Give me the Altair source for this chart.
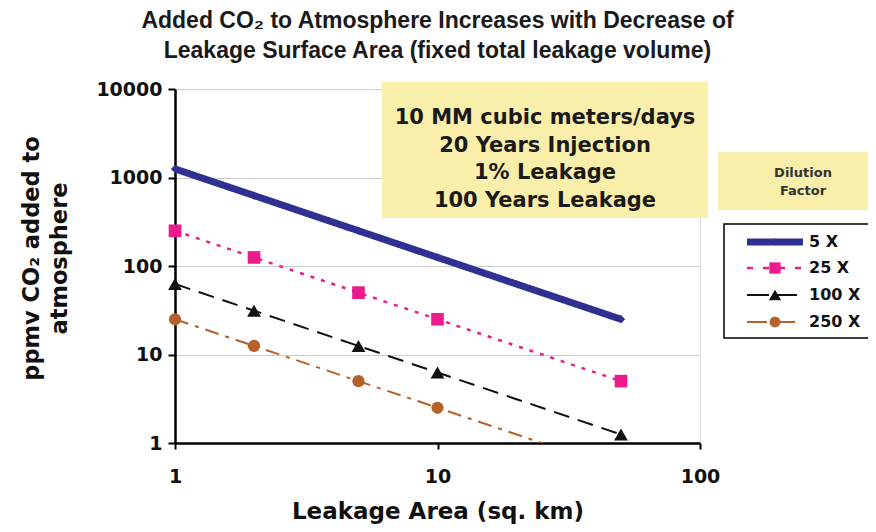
import altair as alt
import pandas as pd

# ---------------- data ----------------
areas = [1, 2, 5, 10, 50]
series_names = ["5 X", "25 X", "100 X", "250 X"]
ppmv_5x = [1250, 625, 250, 125, 25]
ppmv_25x = [250, 125, 50, 25, 5]
ppmv_100x = [62.5, 31.25, 12.5, 6.25, 1.25]
ppmv_250x = [25, 12.5, 5, 2.5, 0.5]
x_ticks = [1, 10, 100]
y_ticks = [1, 10, 100, 1000, 10000]

title_lines = ["Added CO\u2082 to Atmosphere Increases with Decrease of",
               "Leakage Surface Area (fixed total leakage volume)"]
note_lines = ["10 MM cubic meters/days", "20 Years Injection",
              "1% Leakage", "100 Years Leakage"]
legend_title = ["Dilution", "Factor"]
x_title = "Leakage Area (sq. km)"
y_title = ["ppmv CO\u2082 added to", "atmosphere"]

values = [ppmv_5x, ppmv_25x, ppmv_100x, ppmv_250x]

# ---------------- styles ----------------
W, H = 525, 354
FONT = "DejaVu Sans"
YELLOW = "#F9EEAA"
styles = {
    "5 X":   dict(color="#2E3191", width=7, dash=[1, 0], shape="diamond", size=70, ldash=[1, 0]),
    "25 X":  dict(color="#EC1C8C", width=2.5, dash=[4, 7], shape="square", size=160, ldash=[6, 10]),
    "100 X": dict(color="#111111", width=2, dash=[16, 9], shape="triangle-up", size=190, ldash=[22, 6]),
    "250 X": dict(color="#B5612B", width=2, dash=[14, 7, 4, 7], shape="circle", size=150, ldash=[20, 8]),
}

x_enc = alt.X("area:Q",
              scale=alt.Scale(type="log", domain=[1, 100]),
              axis=alt.Axis(values=x_ticks, format="d", title=x_title, grid=False,
                            labelFont=FONT, labelFontSize=19, labelFontWeight="bold",
                            labelColor="#111", labelPadding=18, tickSize=6,
                            tickColor="black", tickWidth=2, domainColor="black",
                            domainWidth=2.5, titleFont=FONT, titleFontSize=23,
                            titleFontWeight="bold", titleColor="#111",
                            titlePadding=14, labelFlush=False))
y_enc = alt.Y("ppmv:Q",
              scale=alt.Scale(type="log", domain=[1, 10000]),
              axis=alt.Axis(values=y_ticks, format="d", title=y_title, grid=True,
                            gridColor="#cccccc", gridWidth=1,
                            labelFont=FONT, labelFontSize=19, labelFontWeight="bold",
                            labelColor="#111", labelPadding=6, tickSize=7,
                            tickColor="black", tickWidth=2, domainColor="black",
                            domainWidth=2.5, titleFont=FONT, titleFontSize=22.5,
                            titleFontWeight="bold", titleColor="#111",
                            titlePadding=24, titleLineHeight=28, titleY=169,
                            labelFlush=False))

layers = []
for name, vals in zip(series_names, values):
    st = styles[name]
    df = pd.DataFrame({"area": areas, "ppmv": vals, "series": name})
    base = alt.Chart(df)
    line = base.mark_line(color=st["color"], strokeWidth=st["width"],
                          strokeDash=st["dash"], strokeCap="butt", clip=True).encode(x=x_enc, y=y_enc)
    pts = base.transform_filter(alt.datum.ppmv >= 1).mark_point(
        filled=True, opacity=1, shape=st["shape"], size=st["size"], color=st["color"]
    ).encode(x=x_enc, y=y_enc)
    layers += [line, pts]

# ---------------- annotation boxes (decoration) ----------------
one = pd.DataFrame({"k": [0]})
note_box = alt.Chart(one).mark_rect(color=YELLOW).encode(
    x=alt.value(207), x2=alt.value(533), y=alt.value(-7), y2=alt.value(129))
note_text = alt.Chart(one).mark_text(
    text=note_lines, font=FONT, fontSize=21, fontWeight="bold", color="#1a1a1a",
    align="center", baseline="alphabetic", lineHeight=27.5
).encode(x=alt.value(370), y=alt.value(35))

lt_box = alt.Chart(one).mark_rect(color=YELLOW).encode(
    x=alt.value(543), x2=alt.value(720), y=alt.value(63), y2=alt.value(121))
lt_text = alt.Chart(one).mark_text(
    text=legend_title, font=FONT, fontSize=13, fontWeight="bold", color="#333333",
    align="center", baseline="alphabetic", lineHeight=18
).encode(x=alt.value(628), y=alt.value(88))

leg_box = alt.Chart(one).mark_rect(fill="white", stroke="black", strokeWidth=1.5).encode(
    x=alt.value(549), x2=alt.value(720), y=alt.value(135), y2=alt.value(249))

legend_layers = [note_box, note_text, lt_box, lt_text, leg_box]
row_y = [153, 179, 206, 233]
for name, ry in zip(series_names, row_y):
    st = styles[name]
    d = pd.DataFrame({"label": [name]})
    legend_layers.append(alt.Chart(d).mark_rule(
        color=st["color"], strokeWidth=st["width"], strokeDash=st["ldash"], strokeCap="butt"
    ).encode(x=alt.value(572), x2=alt.value(628), y=alt.value(ry)))
    legend_layers.append(alt.Chart(d).mark_point(
        filled=True, opacity=1, shape=st["shape"], size=st["size"] * 0.8, color=st["color"]
    ).encode(x=alt.value(600), y=alt.value(ry)))
    legend_layers.append(alt.Chart(d).mark_text(
        font=FONT, fontSize=16, fontWeight="bold", color="#111", align="left", baseline="middle"
    ).encode(x=alt.value(634), y=alt.value(ry), text="label:N"))

chart = alt.layer(*layers, *legend_layers).properties(
    width=W, height=H,
    autosize="none",
    padding={"left": 167, "top": 81, "right": 168, "bottom": 81},
    title=alt.TitleParams(text=title_lines, font="Liberation Sans", fontSize=23,
                          fontWeight="bold", color="#1a1a1a", anchor="middle",
                          lineHeight=30, offset=17),
).configure_view(stroke="black", strokeWidth=1.5).configure(background="white")

chart.save("out.html", embed_options={"renderer": "svg", "actions": False})
